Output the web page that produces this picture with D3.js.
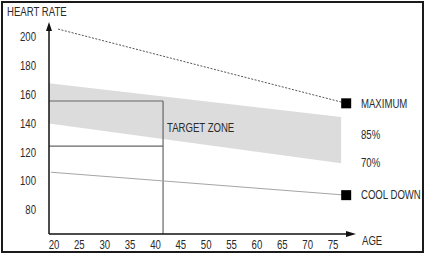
<!DOCTYPE html>
<html>
<head>
<meta charset="utf-8">
<script src="https://cdn.jsdelivr.net/npm/d3@7"></script>
<style>
  body { margin: 0; background: #fff; }
  text { font-family: "Liberation Sans", Arial, sans-serif; fill: #2a2a2a; }
</style>
</head>
<body>
<svg></svg>
<script>
// tick labels
var ageTicks = [20, 25, 30, 35, 40, 45, 50, 55, 60, 65, 70, 75];
var rateTicks = [80, 100, 120, 140, 160, 180, 200];

// maximum heart rate line (dotted)
var maxAges = [20.8, 77.6];
var maxRates = [205.5, 154];

// target zone band, 85% top and 70% bottom
var zoneAges = [19, 76.6];
var zoneUpper = [168, 144.5];
var zoneLower = [140, 112.5];

// cool down line
var coolAges = [19.4, 77.6];
var coolRates = [106.2, 90.3];

// example reading at age 40
var exampleAge = 41.5;
var exampleRates = [155.6, 124.3];

var endLabels = [
  {text: "MAXIMUM", value: 154},
  {text: "85%", value: 132.5},
  {text: "70%", value: 112.5},
  {text: "COOL DOWN", value: 90.3}
];

var svg = d3.select("svg")
            .attr("width", 427)
            .attr("height", 256);

var xScale = d3.scaleLinear()
               .domain([20, 75])
               .range([54, 333]);

var yScale = d3.scaleLinear()
               .domain([80, 200])
               .range([210, 37]);

var axisX0 = xScale.invert(49);
var axisY0 = yScale.invert(234);

// condensed text: no narrow font installed, so squeeze horizontally
var squeeze = 0.78;
var label = function(x, y, txt, anchor) {
  return svg.append("text")
            .attr("transform", "translate(" + x + "," + y + ") scale(" + squeeze + ",1)")
            .attr("dy", "0.35em")
            .attr("text-anchor", anchor || "start")
            .attr("font-size", 12.3)
            .text(txt);
};

// frame
svg.append("rect")
   .attr("x", 2).attr("y", 2)
   .attr("width", 421).attr("height", 250)
   .attr("fill", "none")
   .attr("stroke", "#1a1a1a")
   .attr("stroke-width", 2);

// target zone band
var band = zoneAges.map(function(a, i) {
  return {age: a, hi: zoneUpper[i], lo: zoneLower[i]};
});
svg.append("path")
   .datum(band)
   .attr("fill", "#dcdcdc")
   .attr("d", d3.area()
     .x(function(d) { return xScale(d.age); })
     .y0(function(d) { return yScale(d.lo); })
     .y1(function(d) { return yScale(d.hi); }));

// example box lines at age 40
exampleRates.forEach(function(r) {
  svg.append("line")
     .attr("x1", xScale(axisX0)).attr("x2", xScale(exampleAge))
     .attr("y1", yScale(r)).attr("y2", yScale(r))
     .attr("stroke", "#666")
     .attr("stroke-width", 1.2);
});
svg.append("line")
   .attr("x1", xScale(exampleAge)).attr("x2", xScale(exampleAge))
   .attr("y1", yScale(exampleRates[0])).attr("y2", yScale(axisY0))
   .attr("stroke", "#666")
   .attr("stroke-width", 1.2);

// maximum line
var line = d3.line()
             .x(function(d) { return xScale(d[0]); })
             .y(function(d) { return yScale(d[1]); });

svg.append("path")
   .datum(d3.zip(maxAges, maxRates))
   .attr("fill", "none")
   .attr("stroke", "#555")
   .attr("stroke-width", 1)
   .attr("stroke-dasharray", "2,1.5")
   .attr("d", line);

// cool down line
svg.append("path")
   .datum(d3.zip(coolAges, coolRates))
   .attr("fill", "none")
   .attr("stroke", "#a5a5a5")
   .attr("stroke-width", 1)
   .attr("d", line);

// end squares
[[maxAges[1], maxRates[1]], [coolAges[1], coolRates[1]]].forEach(function(p) {
  svg.append("rect")
     .attr("x", xScale(p[0]) - 5)
     .attr("y", yScale(p[1]) - 5)
     .attr("width", 10).attr("height", 10)
     .attr("fill", "#000");
});

// axes
var axisEndX = xScale.invert(356);
var axisEndY = yScale.invert(22);

svg.append("line")
   .attr("x1", xScale(axisX0)).attr("x2", xScale(axisX0))
   .attr("y1", yScale(axisY0)).attr("y2", yScale(axisEndY) + 6)
   .attr("stroke", "#111").attr("stroke-width", 1.5);
svg.append("line")
   .attr("x1", xScale(axisX0)).attr("x2", xScale(axisEndX) - 6)
   .attr("y1", yScale(axisY0)).attr("y2", yScale(axisY0))
   .attr("stroke", "#111").attr("stroke-width", 1.5);

var ax = xScale(axisX0), ay = yScale(axisEndY);
svg.append("path")
   .attr("d", "M" + ax + "," + ay + "L" + (ax - 3) + "," + (ay + 9) + "L" + (ax + 3) + "," + (ay + 9) + "Z")
   .attr("fill", "#111");
var bx = xScale(axisEndX), by = yScale(axisY0);
svg.append("path")
   .attr("d", "M" + bx + "," + by + "L" + (bx - 10) + "," + (by - 3) + "L" + (bx - 10) + "," + (by + 3) + "Z")
   .attr("fill", "#111");

// tick labels
rateTicks.forEach(function(d) {
  label(36, yScale(d), d, "end");
});
ageTicks.forEach(function(d) {
  label(xScale(d), 245, d, "middle");
});

// titles
label(7, 12, "HEART RATE");
label(362, 241, "AGE");
label(167, 128, "TARGET ZONE");

endLabels.forEach(function(d) {
  label(361, yScale(d.value), d.text);
});
</script>
</body>
</html>
